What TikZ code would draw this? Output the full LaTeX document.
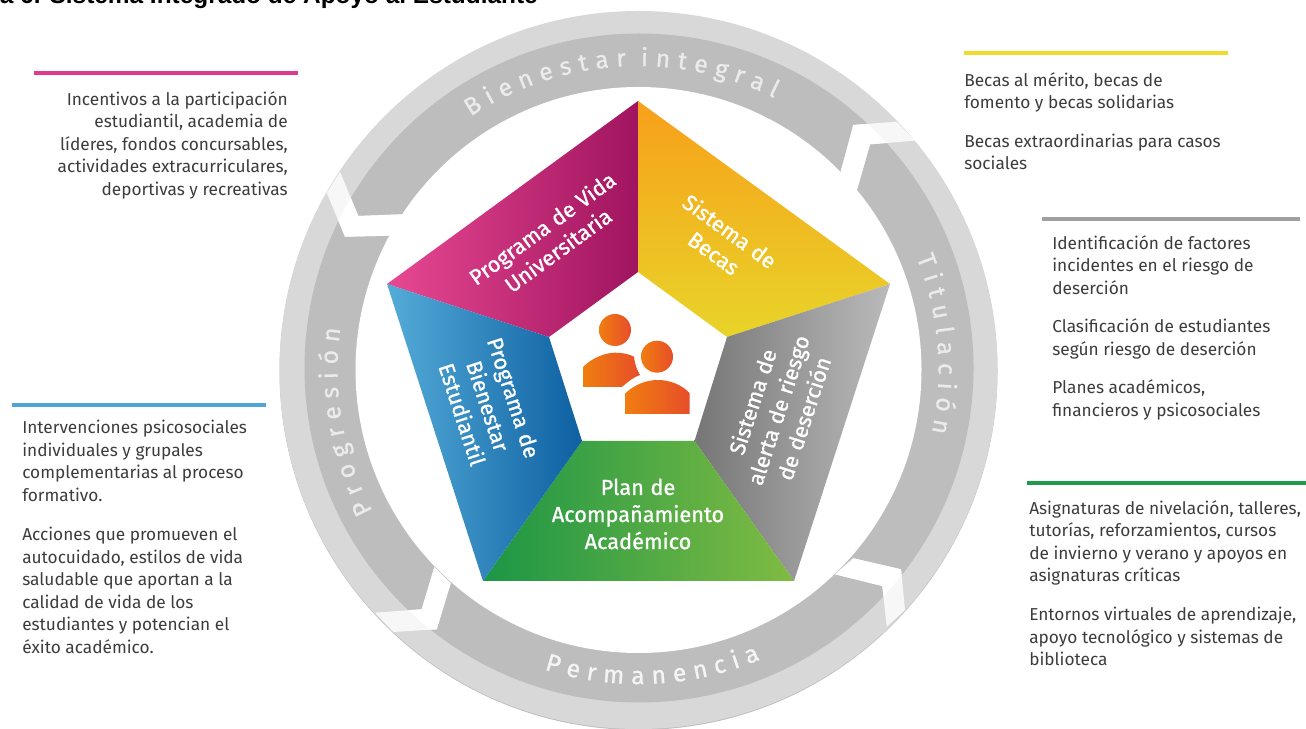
\documentclass[tikz,border=0pt]{standalone}
\usepackage{fontspec}
\setmainfont{Fira Sans}
\newfontfamily\ringfont[FakeBold=1]{Fira Sans}
\newfontfamily\ringwide[FakeBold=1,WordSpace=1.14]{Fira Sans}
\newfontfamily\wedgefont[FakeBold=1]{Fira Sans}
\newfontfamily\titlefont{Liberation Sans}
\usetikzlibrary{decorations.text}
\definecolor{ringlight}{HTML}{D8D8D8}
\definecolor{ringdark}{HTML}{BDBDBD}
\definecolor{ringgap}{HTML}{F7F7F7}
\definecolor{bodytxt}{HTML}{3C3C3C}
\definecolor{iconA}{HTML}{F07D10}
\definecolor{iconB}{HTML}{E74E2A}
\definecolor{pinkA}{HTML}{E84892}
\definecolor{pinkB}{HTML}{CC1E76}
\definecolor{pinkC}{HTML}{A0145F}
\definecolor{yellowA}{HTML}{F7A01A}
\definecolor{yellowB}{HTML}{E8D429}
\definecolor{grayA}{HTML}{767676}
\definecolor{grayB}{HTML}{BABABA}
\definecolor{greenA}{HTML}{1C9646}
\definecolor{greenB}{HTML}{80BB42}
\definecolor{blueA}{HTML}{54ACD8}
\definecolor{blueB}{HTML}{0E60A2}
\definecolor{barpink}{HTML}{E03A8E}
\definecolor{baryellow}{HTML}{F0DC2E}
\definecolor{bargray}{HTML}{A0A0A0}
\definecolor{barblue}{HTML}{4FA6D6}
\definecolor{bargreen}{HTML}{1E9A4A}
\tikzset{
  infotxt/.style={inner sep=0pt,text=bodytxt,font=\fontsize{12.95}{16.9}\selectfont},
  wedgetxt/.style={inner sep=0pt,text=white,align=center,font=\wedgefont\fontsize{16.3}{20.3}\selectfont},
  ribbon/.style={line width=3pt},
  personshade/.style={left color=iconA,right color=iconB}
}
\begin{document}
\begin{tikzpicture}[x=0.75pt,y=0.75pt]
      \useasboundingbox(0,0)rectangle(1306,728);
      \coordinate(ctr)at(638.5,358);
      \node[anchor=base east,inner sep=0pt,text=black,font=\titlefont\fontsize{18.3}{20}\selectfont\bfseries](title)at(538,724){a 6. Sistema Integrado de Apoyo al Estudiante};
      \fill[black!25]([yshift=-0.75pt]ctr)circle(359);
      \fill[ringlight](ctr)circle(359);
      \fill[ringdark](639,360)circle(334.5);
      \fill[white](ctr)circle(283);
      \foreach \gap in {
         {(840.7,556.3)--(853.3,603)--(896.7,606.3)--(915,587.3)--(870,583.7)--(856.7,537.3)},
         {(340,556.3)--(326.7,535.3)--(345,491.3)--(389.3,492.3)--(402.7,513.7)--(358.3,512)},
         {(434.3,160.7)--(421.7,118.7)--(375,115.3)--(393.3,96)--(436.7,98.7)--(450.7,144.7)},
         {(835,153.7)--(882.3,142)--(886.7,101.3)--(905,118)--(901,158.7)--(853.3,169.7)}}{
        \begin{scope}
          \clip(ctr)circle(359);
          \fill[ringgap]\gap--cycle;
          \clip(639,360)circle(334.5);
          \fill[white]\gap--cycle;
        \end{scope}
      }
      \path[decorate,decoration={text along path,text align=center,text color=white!92!black,
         text={|\ringfont\fontsize{18.4}{18.4}\selectfont|B i e n e s t a r ~i n t e g r a l}}]
         (ctr)++(150:304)arc(150:37:304);
      \path[decorate,decoration={text along path,text align=center,text color=white!92!black,
         text={|\ringwide\fontsize{18.5}{18.5}\selectfont|T i t u l a c i ó n}}]
         (ctr)++(60:300)arc(60:-50:300);
      \path[decorate,decoration={text along path,text align=center,text color=white!96!black,
         text={|\ringwide\fontsize{18.5}{18.5}\selectfont|P e r m a n e n c i a}}]
         (ctr)++(-150:314)arc(-150:-24.6:314);
      \path[decorate,decoration={text along path,text align=center,text color=white!92!black,
         text={|\ringwide\fontsize{18.5}{18.5}\selectfont|P r o g r e s i ó n}}]
         (ctr)++(245:301)arc(245:135:301);
      \shade[left color=pinkA,middle color=pinkB,right color=pinkC]
         (638,627)--(387,444)--(549,391)--(638,456)--cycle;
      \shade[top color=yellowA,bottom color=yellowB]
         (638,627)--(890,444)--(727,391)--(638,456)--cycle;
      \shade[left color=grayA,right color=grayB]
         (890,444)--(794,147)--(694.5,287)--(727,391)--cycle;
      \shade[left color=greenA,right color=greenB]
         (794,147)--(483,147)--(582,287)--(694.5,287)--cycle;
      \shade[left color=blueA,right color=blueB]
         (387,444)--(483,147)--(582,287)--(549,391)--cycle;
      \node[wedgetxt,rotate=36](vida)at(550,489){Programa de Vida\\Universitaria};
      \node[wedgetxt,rotate=-36](becas)at(722,486){Sistema de\\Becas};
      \node[wedgetxt,rotate=72](alerta)at(778,318){Sistema de\\alerta de riesgo\\de deserción};
      \node[wedgetxt,rotate=-72](bienestar)at(488,322){Programa de\\Bienestar\\Estudiantil};
      \node[wedgetxt](plan)at(638,214){Plan de\\Acompañamiento\\Académico};
      \shade[personshade](615,398)circle(16);
      \shade[personshade](657,371.3)circle(16);
      \shade[personshade](583.3,341)--(583.3,361.3)..controls(592,370)and(605,375.3)..(615,375.3)
         ..controls(622,375.3)and(629,374)..(634,371.3)..controls(635,363)and(637,358)..(640,353)
         ..controls(633,351)and(627,345)..(621.7,341)--cycle;
      \shade[personshade](625.7,314)--(625.7,335)..controls(634,343)and(646,348)..(658,348)
         ..controls(670,348)and(682,343)..(689.5,335)--(689.5,314)--cycle;
      \draw[ribbon,barpink](34,655)--(298,655);
      \draw[ribbon,baryellow](964,675)--(1228,675);
      \draw[ribbon,bargray](1042,509)--(1300,509);
      \draw[ribbon,barblue](12,323)--(266,323);
      \draw[ribbon,bargreen](1027,245)--(1306,245);
      \node[infotxt,anchor=north east,align=right](vidatxt)at(288,637){Incentivos a la participación\\
         estudiantil, academia de\\líderes, fondos concursables,\\actividades extracurriculares,\\deportivas y recreativas};
      \node[infotxt,anchor=north west,align=left](becastxt)at(964,656){Becas al mérito, becas de\\
         fomento y becas solidarias\\[12pt]Becas extraordinarias para casos\\sociales};
      \node[infotxt,anchor=north west,align=left](alertatxt)at(1052,493){Identificación de factores\\
         incidentes en el riesgo de\\deserción\\[12pt]Clasificación de estudiantes\\según riesgo de deserción\\[12pt]
         Planes académicos,\\financieros y psicosociales};
      \node[infotxt,anchor=north west,align=left](plantxt)at(1029,228){Asignaturas de nivelación, talleres,\\
         tutorías, reforzamientos, cursos\\de invierno y verano y apoyos en\\asignaturas críticas\\[12.5pt]
         Entornos virtuales de aprendizaje,\\apoyo tecnológico y sistemas de\\biblioteca};
      \node[infotxt,anchor=north west,align=left](bienestartxt)at(22,308){Intervenciones psicosociales\\
         individuales y grupales\\complementarias al proceso\\formativo.\\[12.5pt]Acciones que promueven el\\
         autocuidado, estilos de vida\\saludable que aportan a la\\calidad de vida de los\\estudiantes y potencian el\\éxito académico.};
    \end{tikzpicture}
\end{document}
